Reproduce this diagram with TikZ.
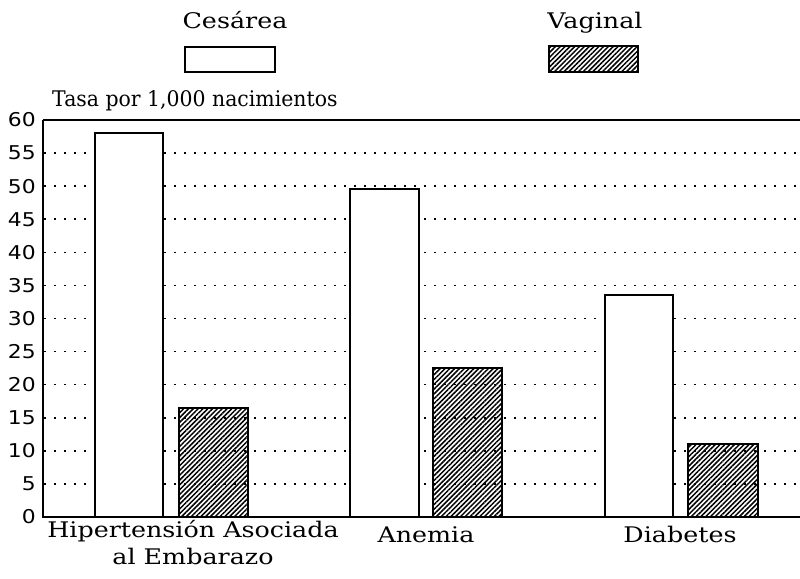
\documentclass[tikz,border=0pt]{standalone}
\usepackage{fontspec}
\setmainfont{DejaVu Serif}
\newfontfamily\numfont{DejaVu Sans}
\usetikzlibrary{patterns.meta}
\tikzset{
  barline/.style={line width=1.8pt, draw=black},
  cesbar/.style={barline, fill=white},
  hatch/.style={pattern={Lines[angle=45,distance=3.4pt,line width=1.5pt]}},
  vagbar/.style={barline, hatch},
  gridline/.style={line width=1.6pt, dash pattern=on 1.6pt off 8.4pt, line cap=butt},
  axisline/.style={line width=2.2pt},
  ticklabel/.style={font=\numfont\fontsize{19}{19}\selectfont, anchor=east, inner sep=0pt},
  sertext/.style={font=\fontsize{21.5}{21.5}\selectfont, inner sep=0pt, anchor=base},
}
\newcommand{\yv}[1]{61+6.617*#1}
\newcommand{\wide}[1]{\scalebox{1.18}[1]{#1}}
\begin{document}
\begin{tikzpicture}[x=1pt,y=1pt]
\useasboundingbox (0,0) rectangle (800,578);
% gridlines
\foreach \v in {5,10,...,55} {
  \draw[gridline] (44,{\yv{\v}}) -- (800,{\yv{\v}});
  \node[ticklabel] (t\v) at (36,{\yv{\v}}) {\scalebox{1.15}[1]{\v}};
}
\node[ticklabel] (t0) at (36,{\yv{0}}) {\scalebox{1.15}[1]{0}};
\node[ticklabel] (t60) at (36,{\yv{60}}) {\scalebox{1.15}[1]{60}};
% bars
\draw[cesbar] (95,61) rectangle (163,{\yv{58}});
\draw[vagbar] (179,61) rectangle (248,{\yv{16.5}});
\draw[cesbar] (350,61) rectangle (419,{\yv{49.6}});
\draw[vagbar] (433,61) rectangle (502,{\yv{22.5}});
\draw[cesbar] (605,61) rectangle (673,{\yv{33.5}});
\draw[vagbar] (688,61) rectangle (758,{\yv{11}});
% axes
\draw[axisline] (43,{\yv{60}}) -- (43,61) -- (800,61);
\draw[axisline] (43,{\yv{60}}) -- (800,{\yv{60}});
% titles
\node[sertext, anchor=base west] (ytitle) at (52,471) {\scalebox{0.95}[1]{Tasa por 1,000 nacimientos}};
\node[sertext] (lc) at (235,549) {\wide{Cesárea}};
\node[sertext] (lv) at (595,549) {\wide{Vaginal}};
\draw[line width=1.4pt, fill=white] (185,506) rectangle (275,531);
\draw[line width=1.4pt, hatch] (549,506) rectangle (638,532);
% category labels
\node[sertext] (c1a) at (193,40) {\wide{Hipertensión Asociada}};
\node[sertext] (c1b) at (193,13) {\wide{al Embarazo}};
\node[sertext] (c2) at (426,35) {\wide{Anemia}};
\node[sertext] (c3) at (680,35) {\wide{Diabetes}};
\end{tikzpicture}
\end{document}
